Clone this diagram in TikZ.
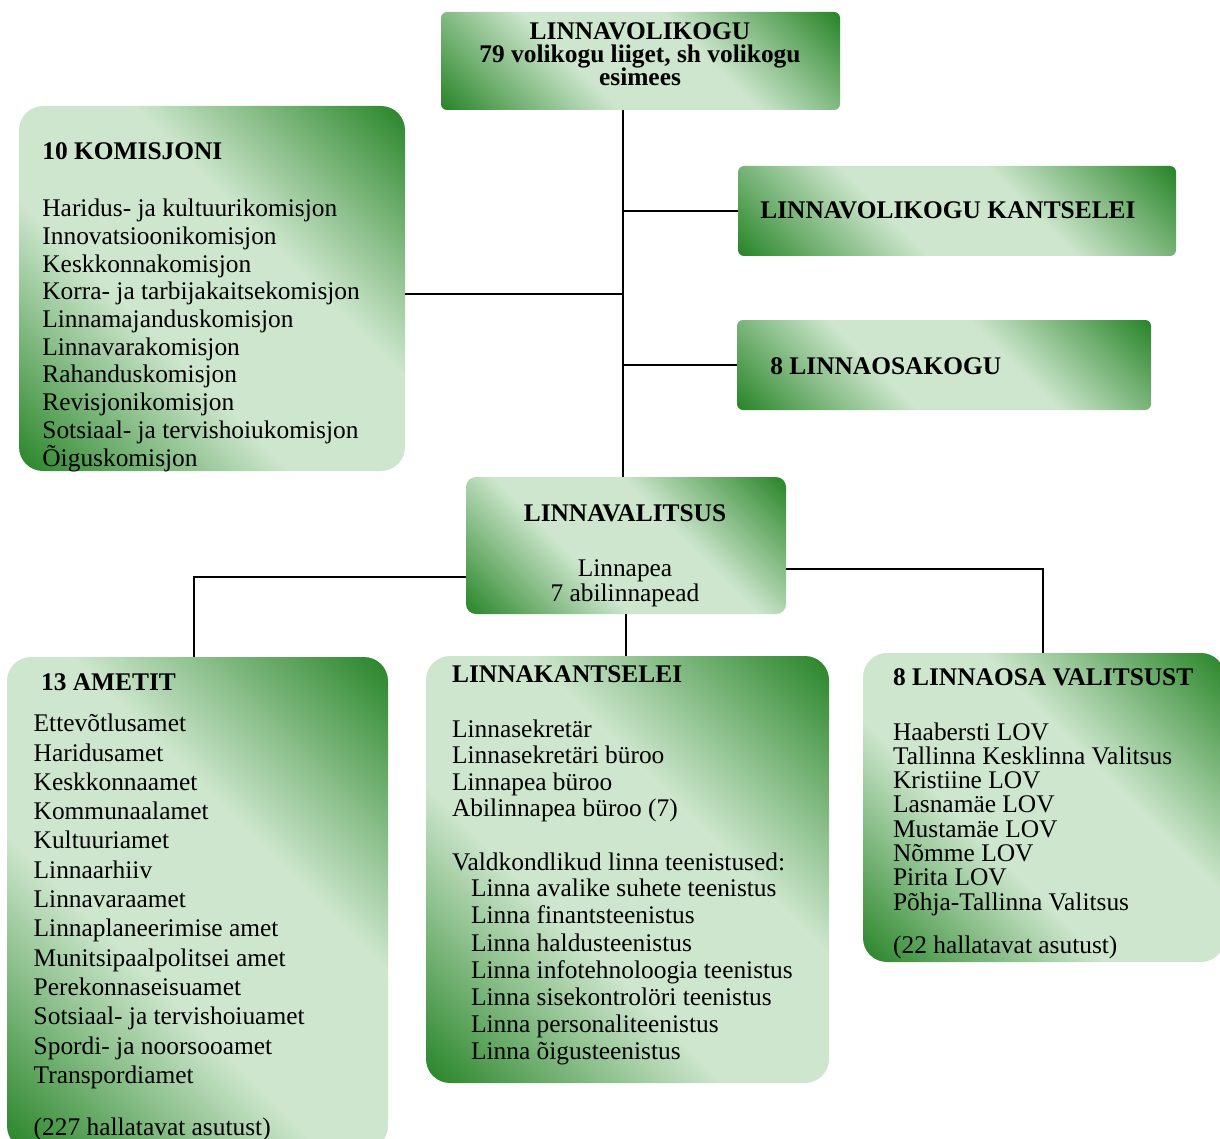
\documentclass[tikz,border=0pt]{standalone}
\usepackage{fontspec}
\setmainfont{Liberation Serif}
\usepackage{tikz}
\usetikzlibrary{fit}

\definecolor{dkgreen}{RGB}{36,130,36}
\definecolor{ltgreen}{RGB}{205,230,205}
\pgfdeclarehorizontalshading{greenband}{100bp}{color(0bp)=(dkgreen); color(14bp)=(dkgreen);
  color(40bp)=(ltgreen); color(60bp)=(ltgreen); color(86bp)=(dkgreen); color(100bp)=(dkgreen)}

\begin{document}
\begin{tikzpicture}[x=0.5pt, y=-0.5pt,
    box/.style={shading=greenband, shading angle=45, inner sep=0pt, rounded corners=#1},
    box/.default=12pt,
    item/.style={anchor=base west, inner sep=0pt, font=\fontsize{12.7}{14}\selectfont},
    head/.style={item, font=\fontsize{12.7}{14}\selectfont\bfseries},
    link/.style={line width=0.8pt}]
    \useasboundingbox (0,0) rectangle (1220,1139);

    % kastid
    \node[box=3pt, fit={(441,12) (840,110)}] (volikogu) {};
    \node[box, fit={(19,106) (405,471)}] (komisjonid) {};
    \node[box=3pt, fit={(738,166) (1176,256)}] (vkantselei) {};
    \node[box=3pt, fit={(737,320) (1151,410)}] (osakogu) {};
    \node[box=5pt, fit={(466,477) (786,614)}] (valitsus) {};
    \node[box, fit={(7,657) (388,1150)}] (ametid) {};
    \node[box, fit={(426,656) (829,1083)}] (lkantselei) {};
    \node[box, fit={(863,653) (1225,962)}] (lov) {};

    \node[head, anchor=base] (volikogu1) at (640,40) {LINNAVOLIKOGU};
    \node[head, anchor=base] (volikogu2) at (640,63) {79 volikogu liiget, sh volikogu};
    \node[head, anchor=base] (volikogu3) at (640,86) {esimees};

    \node[head] (komisjonid0) at (42,160) {10 KOMISJONI};
    \foreach \t [count=\i from 0] in {Haridus- ja kultuurikomisjon, Innovatsioonikomisjon,
      Keskkonnakomisjon, Korra- ja tarbijakaitsekomisjon, Linnamajanduskomisjon,
      Linnavarakomisjon, Rahanduskomisjon, Revisjonikomisjon,
      Sotsiaal- ja tervishoiukomisjon, Õiguskomisjon}
    {
      \node[item] (komisjon\i) at (42, 216.7+27.7*\i) {\t};
    }

    \node[head] (vkantselei0) at (760,219) {LINNAVOLIKOGU KANTSELEI};
    \node[head] (osakogu0) at (770,374) {8 LINNAOSAKOGU};

    \node[head, anchor=base] (valitsus0) at (625,521.7) {LINNAVALITSUS};
    \node[item, anchor=base] (valitsus1) at (625,576.7) {Linnapea};
    \node[item, anchor=base] (valitsus2) at (625,601.7) {7 abilinnapead};

    \node[head] (ametid0) at (40.7,690.7) {13 AMETIT};
    \foreach \t [count=\i from 0] in {Ettevõtlusamet, Haridusamet, Keskkonnaamet,
      Kommunaalamet, Kultuuriamet, Linnaarhiiv, Linnavaraamet, Linnaplaneerimise amet,
      Munitsipaalpolitsei amet, Perekonnaseisuamet, Sotsiaal- ja tervishoiuamet,
      Spordi- ja noorsooamet, Transpordiamet}
    {
      \node[item] (amet\i) at (33.3, 731.7+29.3*\i) {\t};
    }
    \node[item] (ametid99) at (33.3,1135) {(227 hallatavat asutust)};

    \node[head] (lkantselei0) at (451.7,682.7) {LINNAKANTSELEI};
    \foreach \t [count=\i from 0] in {Linnasekretär, Linnasekretäri büroo, Linnapea büroo,
      Abilinnapea büroo (7)}
    {
      \node[item] (buroo\i) at (451.7, 737.3+26.5*\i) {\t};
    }
    \node[item] (teenistused) at (451.7,870.7) {Valdkondlikud linna teenistused:};
    \foreach \t [count=\i from 0] in {Linna avalike suhete teenistus, Linna finantsteenistus,
      Linna haldusteenistus, Linna infotehnoloogia teenistus, Linna sisekontrolöri teenistus,
      Linna personaliteenistus, Linna õigusteenistus}
    {
      \node[item] (teenistus\i) at (470.7, 896.7+27.2*\i) {\t};
    }

    \node[head] (lov0) at (892.7,685) {8 LINNAOSA VALITSUST};
    \foreach \t [count=\i from 0] in {Haabersti LOV, Tallinna Kesklinna Valitsus,
      Kristiine LOV, Lasnamäe LOV, Mustamäe LOV, Nõmme LOV, Pirita LOV,
      Põhja-Tallinna Valitsus}
    {
      \node[item] (lov\i) at (892.7, 740+24.3*\i) {\t};
    }
    \node[item] (lov99) at (892.7,953) {(22 hallatavat asutust)};

    % jooned
    \coordinate (trunk) at (623,0);
    \coordinate (komarm) at (0,294);
    \coordinate (leftarm) at (194,577);
    \coordinate (rightarm) at (1043,569);
    \draw[link] (volikogu.south -| trunk) -- (valitsus.north -| trunk);
    \draw[link] (komisjonid.east |- komarm) -- (trunk |- komarm);
    \draw[link] (vkantselei.west -| trunk) -- (vkantselei.west);
    \draw[link] (osakogu.west -| trunk) -- (osakogu.west);
    \draw[link] (valitsus.west |- leftarm) -- (leftarm) -- (leftarm |- ametid.north);
    \draw[link] (valitsus.east |- rightarm) -- (rightarm) -- (rightarm |- lov.north);
    \draw[link] (valitsus.south) -- (valitsus.south |- lkantselei.north);
\end{tikzpicture}
\end{document}
